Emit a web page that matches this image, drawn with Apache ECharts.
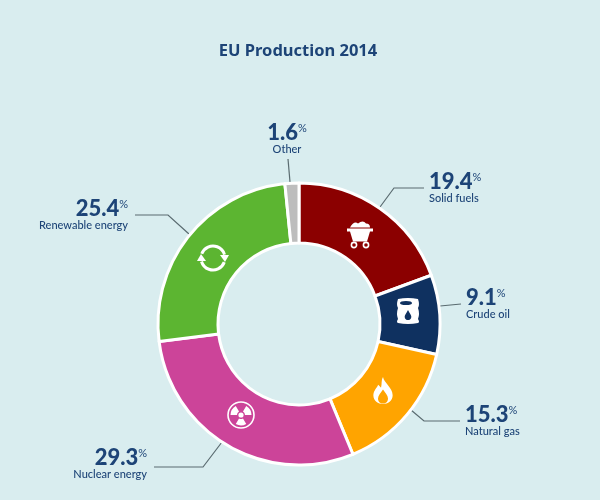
<!DOCTYPE html>
<html>
<head>
<meta charset="utf-8">
<script src="https://cdn.jsdelivr.net/npm/echarts@6/dist/echarts.min.js"></script>
<style>
html,body{margin:0;padding:0;background:#d9edef}
#main{width:600px;height:500px}
</style>
</head>
<body>
<div id="main"></div>
<script>
var names = ['Solid fuels', 'Crude oil', 'Natural gas', 'Nuclear energy', 'Renewable energy', 'Other'];
var shares = [19.4, 9.1, 15.3, 29.3, 25.4, 1.6];

var colors = ['#8b0000', '#0f3160', '#ffa400', '#cc4499', '#5cb531', '#bdbdbd'];
var textColor = '#1d4477';
var narrow = 'Lato,"Noto Sans",sans-serif';

// where each label sits and how its leader runs
var labelAnchors = [
    {x: 429, y: 172, align: 'left', line: [[380, 207], [394, 188], [424, 188]]},
    {x: 466, y: 288, align: 'left', line: [[440, 306], [461, 304]]},
    {x: 465, y: 405, align: 'left', line: [[411, 410], [424, 421], [460, 421]]},
    {x: 147, y: 448, align: 'right', line: [[222, 442], [203, 467], [154, 467]]},
    {x: 128, y: 199, align: 'right', line: [[189, 234], [168, 215], [135, 215]]},
    {x: 287, y: 123, align: 'center', line: [[290, 182], [288, 159]]}
];

var chart = echarts.init(document.getElementById('main'));

function richFor(align) {
    return {
        v: {fontFamily: narrow, fontWeight: 900, fontSize: 22, color: textColor, align: align, lineHeight: 20},
        p: {fontFamily: narrow, fontSize: 11, color: textColor, align: align, verticalAlign: 'top', lineHeight: 20},
        n: {fontFamily: narrow, fontWeight: 500, fontSize: 11, color: textColor, align: align, lineHeight: 12}
    };
}

// white pictograms on the slices, path needs a custom series (graphic has no path type)
var icons = [
    // coal cart
    {type: 'group', x: 360, y: 234, children: [
        {type: 'path', shape: {pathData: 'M-13,-5 L13,-5 L13,-2 L10,-2 L7,8 L-7,8 L-10,-2 L-13,-2 Z M-10,-6 Q-6,-13 -2,-10 Q3,-14 6,-10 Q10,-10 10,-6 Z', x: -13, y: -13, width: 26, height: 21}, style: {fill: '#fff'}},
        {type: 'circle', shape: {cx: -6, cy: 11, r: 2.6}, style: {fill: 'none', stroke: '#fff', lineWidth: 1.6}},
        {type: 'circle', shape: {cx: 6, cy: 11, r: 2.6}, style: {fill: 'none', stroke: '#fff', lineWidth: 1.6}}
    ]},
    // oil barrel
    {type: 'group', x: 408, y: 311, children: [
        {type: 'path', shape: {pathData: 'M-10,-12 Q0,-14 10,-12 Q12,-6 10,-3 Q12,3 10,8 Q12,11 10,12 Q0,14 -10,12 Q-12,11 -10,8 Q-12,3 -10,-3 Q-12,-6 -10,-12 Z', x: -12, y: -13, width: 24, height: 26}, style: {fill: '#fff'}},
        {type: 'path', shape: {pathData: 'M-8,-8 Q-8,-10 -2,-10 Q4,-10 4,-8 Q4,-6 -2,-6 Q-8,-6 -8,-8 Z', x: -8, y: -10, width: 12, height: 4}, style: {fill: colors[1]}},
        {type: 'path', shape: {pathData: 'M0,-4 C2,0 4,2 4,4 C4,7 2,8 0,8 C-2,8 -4,7 -4,4 C-4,2 -2,0 0,-4 Z', x: -3.5, y: -1, width: 7, height: 10}, style: {fill: colors[1]}}
    ]},
    // gas flame
    {type: 'group', x: 383, y: 390, children: [
        {type: 'path', shape: {pathData: 'M0,-14 C1,-8 10,-3 10,5 C10,11 5,14 0,14 C-5,14 -10,11 -10,5 C-10,0 -6,-3 -5,-6 C-3,-4 -2,-3 -2,-3 C-1,-7 -2,-11 0,-14 Z', x: -10, y: -13, width: 20, height: 27}, style: {fill: '#fff'}},
        {type: 'path', shape: {pathData: 'M0,0 C2,3 5,6 5,9 C5,12 3,14 0,14 C-3,14 -5,12 -5,9 C-5,6 -2,3 0,0 Z', x: -5, y: -1, width: 10, height: 15}, style: {fill: colors[2]}}
    ]},
    // radiation sign
    {type: 'group', x: 241, y: 415, children: [
        {type: 'circle', shape: {cx: 0, cy: 0, r: 13}, style: {fill: 'none', stroke: '#fff', lineWidth: 1.6}},
        {type: 'circle', shape: {cx: 0, cy: 0, r: 2.6}, style: {fill: '#fff'}},
        {type: 'sector', shape: {cx: 0, cy: 0, r0: 4, r: 10.5, startAngle: -1.05, endAngle: 0}, style: {fill: '#fff'}},
        {type: 'sector', shape: {cx: 0, cy: 0, r0: 4, r: 10.5, startAngle: -3.14, endAngle: -2.09}, style: {fill: '#fff'}},
        {type: 'sector', shape: {cx: 0, cy: 0, r0: 4, r: 10.5, startAngle: 1.05, endAngle: 2.09}, style: {fill: '#fff'}}
    ]},
    // recycling arrows
    {type: 'group', x: 213, y: 258, children: [
        {type: 'arc', shape: {cx: 0, cy: 0, r: 12, startAngle: 3.5, endAngle: 6.0}, style: {fill: 'none', stroke: '#fff', lineWidth: 3}},
        {type: 'arc', shape: {cx: 0, cy: 0, r: 12, startAngle: 0.35, endAngle: 2.85}, style: {fill: 'none', stroke: '#fff', lineWidth: 3}},
        {type: 'polygon', shape: {points: [[7, -3], [16, -3], [12, 4]]}, style: {fill: '#fff'}},
        {type: 'polygon', shape: {points: [[-16, 3], [-7, 3], [-12, -4]]}, style: {fill: '#fff'}}
    ]}
];

var option = {
    backgroundColor: '#d9edef',
    animation: false,
    title: {
        text: 'EU Production 2014',
        left: 293,
        top: 38,
        textAlign: 'center',
        textStyle: {fontFamily: '"Noto Sans",sans-serif', fontWeight: 'bold', fontSize: 16.5, color: textColor}
    },
    series: [{
        type: 'pie',
        center: [299, 324],
        radius: [81, 141],
        startAngle: 90,
        clockwise: true,
        data: names.map(function (n, i) {
            return {
                name: n,
                value: shares[i],
                itemStyle: {color: colors[i]},
                label: {rich: richFor(labelAnchors[i].align), align: labelAnchors[i].align}
            };
        }),
        itemStyle: {borderColor: '#fff', borderWidth: 3},
        label: {
            show: true,
            formatter: function (p) {
                return '{v|' + p.value + '}{p|%}\n{n|' + p.name + '}';
            }
        },
        labelLine: {show: true, lineStyle: {color: '#5a6b70', width: 1.2}},
        labelLayout: function (p) {
            var a = labelAnchors[p.dataIndex];
            return {x: a.x, y: a.y, align: a.align, verticalAlign: 'top', labelLinePoints: a.line};
        }
    }, {
        type: 'custom',
        coordinateSystem: 'none',
        silent: true,
        z: 5,
        data: icons.map(function (d, i) { return [i]; }),
        renderItem: function (params) {
            return icons[params.dataIndex];
        }
    }]
};
chart.setOption(option);
</script>
</body>
</html>
